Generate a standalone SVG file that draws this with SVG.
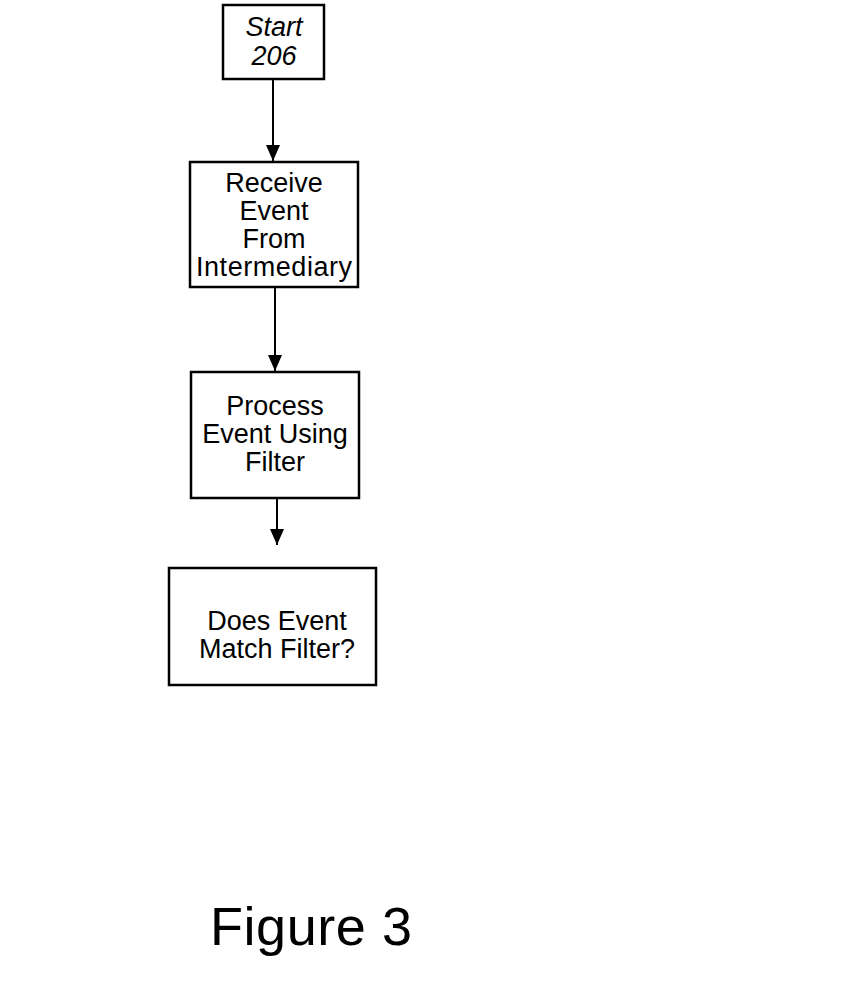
<svg xmlns="http://www.w3.org/2000/svg" width="850" height="989" viewBox="0 0 850 989">
<defs>
<marker id="ah" viewBox="0 0 16 14" refX="16" refY="7" markerWidth="16" markerHeight="14" markerUnits="userSpaceOnUse" orient="auto">
<path d="M0,0 L16,7 L0,14 z" fill="#000"/>
</marker>
<style>
.box{fill:#fff;stroke:#000;stroke-width:2.5}
.t{font-family:"Liberation Sans",Arial,sans-serif;font-size:27px;fill:#000;text-anchor:middle}
.it{font-style:italic}
.conn{stroke:#000;stroke-width:2;fill:none;marker-end:url(#ah)}
</style>
</defs>
<rect width="850" height="989" fill="#fff"/>
<g id="connectors">
<line class="conn" x1="273" y1="80" x2="273" y2="161"/>
<line class="conn" x1="275" y1="288" x2="275" y2="371"/>
<line class="conn" x1="277" y1="499" x2="277" y2="545"/>
</g>
<g id="start">
<rect class="box" x="223" y="5" width="101" height="74"/>
<text class="t it" x="274" y="36">Start</text>
<text class="t it" x="274" y="65">206</text>
</g>
<g id="receive">
<rect class="box" x="190" y="162" width="168" height="125"/>
<text class="t" x="274" y="192">Receive</text>
<text class="t" x="274" y="220">Event</text>
<text class="t" x="274" y="248">From</text>
<text class="t" x="274" y="276" textLength="156">Intermediary</text>
</g>
<g id="process">
<rect class="box" x="191" y="372" width="168" height="126"/>
<text class="t" x="275" y="415">Process</text>
<text class="t" x="275" y="443">Event Using</text>
<text class="t" x="275" y="471">Filter</text>
</g>
<g id="decision">
<rect class="box" x="169" y="568" width="207" height="117"/>
<text class="t" x="277" y="630">Does Event</text>
<text class="t" x="277" y="658">Match Filter?</text>
</g>
<text x="210" y="945" font-family="Liberation Sans,Arial,sans-serif" font-size="54" fill="#000" textLength="202">Figure 3</text>
</svg>
